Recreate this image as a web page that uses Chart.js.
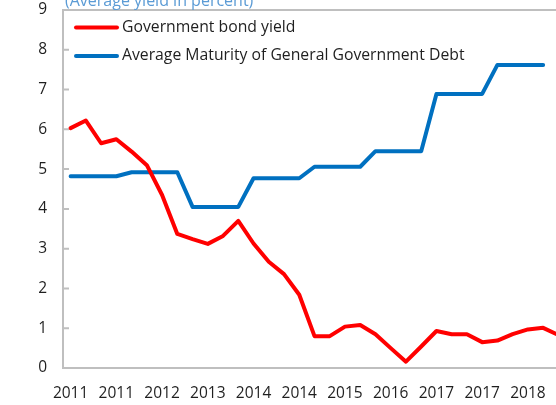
<!DOCTYPE html>
<html><head><meta charset="utf-8">
<script src="https://cdn.jsdelivr.net/npm/chart.js@4/dist/chart.umd.min.js"></script>
<style>
html,body{margin:0;padding:0;overflow:hidden;background:#fff;width:556px;height:405px;position:relative;}
#wrap{position:absolute;left:0;top:0;width:580px;height:405px;}
#title{position:absolute;left:65px;top:-10px;font-family:"Open Sans";font-size:16px;line-height:20px;color:#5B9BD5;white-space:nowrap;}
</style></head><body>
<div id="wrap"><canvas id="c" width="580" height="405" style="width:580px;height:405px"></canvas></div>
<div id="title">(Average yield in percent)</div>
<script>
// Quarterly observations
const quarters = ['2011Q1','2011Q2','2011Q3','2011Q4','2012Q1','2012Q2','2012Q3','2012Q4','2013Q1','2013Q2','2013Q3','2013Q4',
  '2014Q1','2014Q2','2014Q3','2014Q4','2015Q1','2015Q2','2015Q3','2015Q4','2016Q1','2016Q2','2016Q3','2016Q4',
  '2017Q1','2017Q2','2017Q3','2017Q4','2018Q1','2018Q2','2018Q3','2018Q4','2019Q1'];
const bondYield = [6.03,6.22,5.65,5.75,5.44,5.10,4.35,3.37,3.24,3.12,3.32,3.70,3.13,2.67,2.36,1.84,0.80,0.80,1.04,1.08,0.85,0.50,0.16,0.54,0.93,0.85,0.85,0.65,0.69,0.85,0.97,1.01,0.83];
const avgMaturity = [4.82,4.82,4.82,4.82,4.92,4.92,4.92,4.92,4.05,4.05,4.05,4.05,4.77,4.77,4.77,4.77,5.06,5.06,5.06,5.06,5.45,5.45,5.45,5.45,6.89,6.89,6.89,6.89,7.62,7.62,7.62,7.62,null];
// shown under every third quarter
const tickLabels = ['2011','2011','2012','2013','2014','2014','2015','2016','2017','2017','2018'];
const seriesNames = ['Government bond yield','Average Maturity of General Government Debt'];

const FONT = '"Open Sans"';
const AXIS = '#BFBFBF';
const TXT = '#1F1F1F';

const frame = {
  id: 'frame',
  beforeDatasetsDraw(chart){
    const {ctx, chartArea:a, scales:{y}} = chart;
    ctx.save();
    ctx.strokeStyle = AXIS; ctx.lineWidth = 2;
    ctx.beginPath(); ctx.moveTo(a.left-1, a.top); ctx.lineTo(a.right, a.top); ctx.stroke();
    ctx.beginPath();
    y.ticks.forEach(t => { const py = y.getPixelForValue(t.value); ctx.moveTo(a.left, py); ctx.lineTo(a.left+6, py); });
    ctx.stroke();
    ctx.restore();
  },
  afterDraw(chart){
    const {ctx, chartArea:a} = chart;
    ctx.save();
    ctx.font = '15.75px ' + FONT; ctx.textBaseline = 'middle'; ctx.fillStyle = TXT;
    chart.data.datasets.forEach((ds,i) => {
      const yy = a.top + 17.5 + i*28.5;
      ctx.strokeStyle = ds.borderColor; ctx.lineWidth = 4; ctx.lineCap = 'round';
      ctx.beginPath(); ctx.moveTo(a.left+13, yy); ctx.lineTo(a.left+54, yy); ctx.stroke();
      ctx.fillText(ds.label, a.left+59, yy);
    });
    ctx.restore();
  }
};

const noPad = s => { s.paddingTop = 0; s.paddingBottom = 0; s.paddingLeft = 0; s.paddingRight = 0; };

new Chart(document.getElementById('c'), {
  type: 'line',
  data: {
    labels: quarters,
    datasets: [
      {label: seriesNames[0], data: bondYield, borderColor:'#FF0000', borderWidth:4, pointRadius:0, tension:0, borderJoinStyle:'round', borderCapStyle:'round'},
      {label: seriesNames[1], data: avgMaturity, borderColor:'#0070C0', borderWidth:4, pointRadius:0, tension:0, borderJoinStyle:'round', borderCapStyle:'round'}
    ]
  },
  options: {
    responsive: false, animation: false, devicePixelRatio: 1,
    layout: {padding: {left:0, top:10, right:14, bottom:0}},
    plugins: {legend:{display:false}, tooltip:{enabled:false}, title:{display:false}},
    scales: {
      x: {
        type:'category', offset:true,
        grid:{display:false, drawTicks:false},
        border:{display:true, color:AXIS, width:2},
        afterFit: s => { s.height = 37; noPad(s); },
        ticks:{autoSkip:false, maxRotation:0, padding:16, color:TXT, font:{family:FONT, size:15.5},
          callback:(v,i)=> i % 3 === 0 ? tickLabels[i/3] : ''}
      },
      y: {
        min:0, max:9,
        grid:{display:false, drawTicks:false},
        border:{display:true, color:AXIS, width:2},
        afterFit: s => { s.width = 63; noPad(s); },
        ticks:{stepSize:1, padding:16, color:TXT, font:{family:FONT, size:15.5}}
      }
    }
  },
  plugins: [frame]
});
</script>
</body></html>
